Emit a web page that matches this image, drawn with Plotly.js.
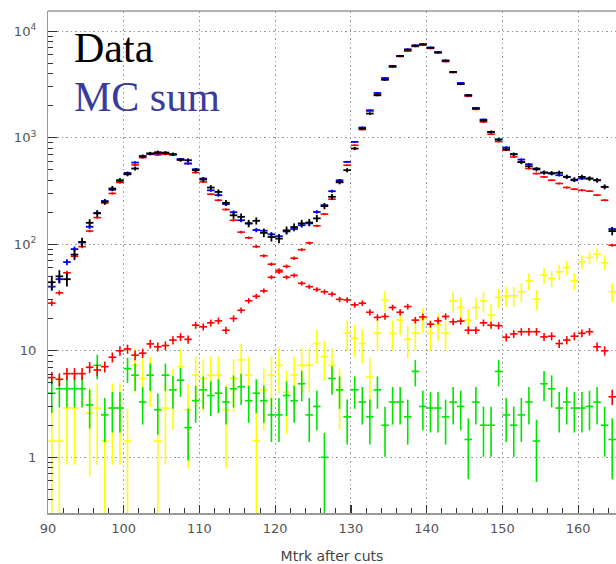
<!DOCTYPE html>
<html>
<head>
<meta charset="utf-8">
<script src="https://cdn.plot.ly/plotly-3.0.1.min.js"></script>
<style>
  html, body { margin: 0; padding: 0; background: #ffffff; }
  #chart { width: 616px; height: 564px; }
</style>
</head>
<body>
<div id="chart"></div>
<script>
// Bin centres of the Mtrk histogram (1 unit bins from 90 to 165)
const massBins = [
  90.5, 91.5, 92.5, 93.5, 94.5, 95.5, 96.5, 97.5, 98.5, 99.5,
  100.5, 101.5, 102.5, 103.5, 104.5, 105.5, 106.5, 107.5, 108.5, 109.5,
  110.5, 111.5, 112.5, 113.5, 114.5, 115.5, 116.5, 117.5, 118.5, 119.5,
  120.5, 121.5, 122.5, 123.5, 124.5, 125.5, 126.5, 127.5, 128.5, 129.5,
  130.5, 131.5, 132.5, 133.5, 134.5, 135.5, 136.5, 137.5, 138.5, 139.5,
  140.5, 141.5, 142.5, 143.5, 144.5, 145.5, 146.5, 147.5, 148.5, 149.5,
  150.5, 151.5, 152.5, 153.5, 154.5, 155.5, 156.5, 157.5, 158.5, 159.5,
  160.5, 161.5, 162.5, 163.5, 164.5
];

// Data (black)
const dataCounts = [
  44, 50, 47, 80, 105, 159, 195, 250, 334, 400,
  456, 514, 670, 711, 731, 720, 700, 620, 615, 496,
  405, 341, 310, 245, 187, 181, 157, 166, 128, 117,
  113, 135, 145, 157, 160, 175, 228, 279, 385, 496,
  792, 1220, 1686, 2505, 3500, 4700, 5850, 6700, 7300, 7540,
  7000, 6300, 5300, 4140, 3200, 2505, 1880, 1450, 1133, 962,
  780, 700, 590, 540, 505, 471, 465, 469, 430, 405,
  429, 414, 399, 346, 133
];

// MC sum (blue)
const mcSum = [
  40, 47, 68, 90, 104, 146, 197, 255, 325, 393,
  468, 585, 670, 711, 711, 726, 700, 632, 573, 506,
  414, 321, 289, 238, 200, 168, 157, 136, 134, 124,
  119, 132, 139, 151, 157, 201, 233, 315, 399, 593,
  914, 1247, 1811, 2630, 3640, 4690, 5850, 6760, 7380, 7540,
  7020, 6380, 5300, 4140, 3270, 2505, 1905, 1482, 1133, 962,
  810, 700, 624, 564, 514, 471, 461, 445, 429, 399,
  414, 414, 399, 346, 139
];

// Red component peaking near 105
const redLowPeak = [
  28, 35, 54, 77, 95, 133, 178, 244, 300, 380,
  452, 556, 650, 700, 690, 700, 690, 620, 573, 471,
  385, 295, 259, 212, 168, 130, 115, 95, 78, 65,
  57, 49, 51, 43, 40, 37.6, 35.8, 34, 30.4, 30,
  27, 28, 23, 20.6, 21, 25.5, 23, 26, 19.4, 20.8,
  17.8, 19.1, 21, 18.7, 19, 15.6, 15.6, 18.3, 17.4, 17.2,
  13.4, 14.4, 15.1, 15.1, 15.1, 13.5, 13.7, 11.7, 12.6, 13.7,
  14.6, 15.1, 10.9, 10, 3.7
];

// Red component peaking near 140
const redHighPeak = [
  5.6, 5.4, 6.1, 6.1, 6.1, 7.0, 6.6, 7.1, 8.7, 10,
  10.4, 9.1, 9.5, 11.6, 10.9, 11.2, 12.6, 13.5, 12.8, 17.4,
  16.8, 18.3, 19.1, 15.6, 20.1, 24, 29.5, 32.5, 36.5, 49,
  55, 62, 74, 89, 103, 149, 192, 265, 380, 552,
  850, 1194, 1780, 2550, 3560, 4600, 5800, 6500, 7200, 7400,
  6900, 6300, 5190, 4100, 3180, 2450, 1850, 1407, 1080, 920,
  764, 661, 593, 514, 461, 429, 399, 372, 341, 329,
  321, 315, 289, 259, 98
];

// Yellow component
const yellowComp = [
  1.42, 1.42, 2.9, 2.9, null, 2.6, 2.9, 1.42, 2.9, 2.9,
  1.42, 7.3, 5.5, 5.9, 1.42, 2.9, 4.3, 7.1, 2.8, 5.9,
  5.5, 5.9, 5.9, 2.8, 5.5, 8.2, 5.9, 1.43, 4.3, 5.9,
  7.3, 4.1, 5.9, 7.3, 7.3, 11.7, 8.8, 7.3, 4.3, 14.6,
  13.1, 11.7, 5.7, 14.6, 29.9, 14.6, 19.4, 12.8, 14.6, 20,
  14.6, 17.4, 14.6, 29.4, 25.5, 19.4, 25.5, 29.4, 21.6, 31.7,
  32.8, 32.8, 35.8, 45.4, 30.5, 51.3, 47.7, 55.2, 60.5, 45.4,
  68.4, 75.2, 80.8, 67, 35.8
];

// Green component
const greenComp = [
  4.0, 4.4, 4.4, 4.4, 4.4, 3.1, 7.3, 2.5, 2.9, 2.9,
  6.8, 5.9, 3.3, 5.9, 2.8, 5.9, 4.3, 5.3, 1.9, 3.4,
  4.3, 3.8, 4.0, 3.3, 4.4, 4.6, 3.4, 4.0, 3.4, 2.5,
  2.5, 3.8, 3.4, 4.9, 2.5, 3.0, 1.0, 5.5, 4.3, 2.4,
  4.3, 3.3, 2.4, 4.3, 2.0, 3.3, 3.3, 2.4, 6.4, 3.0,
  2.9, 2.9, 2.4, 3.3, 3.0, 1.47, 3.3, 2.0, 2.0, 6.4,
  2.5, 2.0, 2.5, 3.3, 1.42, 4.9, 4.4, 2.9, 3.3, 2.9,
  2.9, 3.0, 3.3, 2.0, 1.47
];

// Per-sample event weights (statistical error = sqrt(sum w^2) = sqrt(value * w))
const sampleWeights = { data: 1.0, mc: 0.3, red: 0.1, yellow: 1.45, green: 0.49 };

function statErr(vals, w) {
  return vals.map(v => (v == null ? null : Math.sqrt(v * w)));
}

function histTrace(name, vals, w, color, thick) {
  return {
    type: 'scatter',
    mode: 'markers',
    name: name,
    x: massBins,
    y: vals,
    marker: { size: 2, color: color },
    error_x: { type: 'constant', value: 0.5, width: 0, thickness: thick, color: color },
    error_y: { type: 'data', array: statErr(vals, w), symmetric: true, width: 0, thickness: thick, color: color },
    showlegend: false,
    hoverinfo: 'skip'
  };
}

const traces = [
  histTrace('yellow', yellowComp, sampleWeights.yellow, '#ffff00', 1.6),
  histTrace('green', greenComp, sampleWeights.green, '#00e600', 1.6),
  histTrace('red low', redLowPeak, sampleWeights.red, '#ff0000', 1.6),
  histTrace('red high', redHighPeak, sampleWeights.red, '#ff0000', 1.6),
  histTrace('MC sum', mcSum, sampleWeights.mc, '#0000ff', 1.8),
  histTrace('Data', dataCounts, sampleWeights.data, '#000000', 1.8)
];

const frameColor = '#9a9a9a';
const gridColor = '#999999';

const layout = {
  width: 616,
  height: 564,
  margin: { l: 48, r: 0, t: 11, b: 51, pad: 0 },
  paper_bgcolor: '#ffffff',
  plot_bgcolor: '#ffffff',
  font: { family: 'DejaVu Sans, sans-serif', color: '#555555' },
  showlegend: false,
  hovermode: false,
  xaxis: {
    range: [90, 165],
    tick0: 90,
    dtick: 10,
    ticks: 'inside',
    ticklen: 8,
    tickwidth: 1.2,
    tickcolor: '#333333',
    showline: true,
    linecolor: frameColor,
    linewidth: 1.5,
    showgrid: true,
    gridcolor: gridColor,
    griddash: '1.5px,3px',
    gridwidth: 1,
    zeroline: false,
    minor: { dtick: 2, ticks: 'inside', ticklen: 5, tickcolor: '#333333', tickwidth: 1, showgrid: false },
    tickfont: { family: 'DejaVu Sans, sans-serif', size: 13, color: '#555555' },
    ticklabelstandoff: 3,
    title: { text: 'Mtrk after cuts', font: { family: 'DejaVu Sans, sans-serif', size: 14, color: '#444444' }, standoff: 18 }
  },
  yaxis: {
    type: 'log',
    range: [-0.523, 4.19],
    dtick: 1,
    exponentformat: 'power',
    ticks: 'inside',
    ticklen: 9,
    tickwidth: 1.2,
    tickcolor: '#333333',
    showline: true,
    linecolor: frameColor,
    linewidth: 1.5,
    showgrid: true,
    gridcolor: gridColor,
    griddash: '1.5px,3px',
    gridwidth: 1,
    zeroline: false,
    minor: { dtick: 'D1', ticks: 'inside', ticklen: 5, tickcolor: '#333333', tickwidth: 1, showgrid: false },
    tickfont: { family: 'DejaVu Sans, sans-serif', size: 10.5, color: '#555555' },
    ticklabelstandoff: 8
  },
  shapes: [
    { type: 'line', xref: 'paper', yref: 'paper', x0: 0, x1: 1, y0: 1, y1: 1,
      line: { color: frameColor, width: 1.5 } }
  ],
  annotations: [
    { text: 'Data', xref: 'paper', yref: 'paper', x: 0.043, y: 0.926,
      xanchor: 'left', yanchor: 'middle', showarrow: false,
      font: { family: 'Liberation Serif, Times New Roman, serif', size: 42, color: '#000000' } },
    { text: 'MC sum', xref: 'paper', yref: 'paper', x: 0.043, y: 0.829,
      xanchor: 'left', yanchor: 'middle', showarrow: false,
      font: { family: 'Liberation Serif, Times New Roman, serif', size: 42, color: '#3b3b9e' } }
  ]
};

Plotly.newPlot('chart', traces, layout, { staticPlot: true, displayModeBar: false });
</script>
</body>
</html>
